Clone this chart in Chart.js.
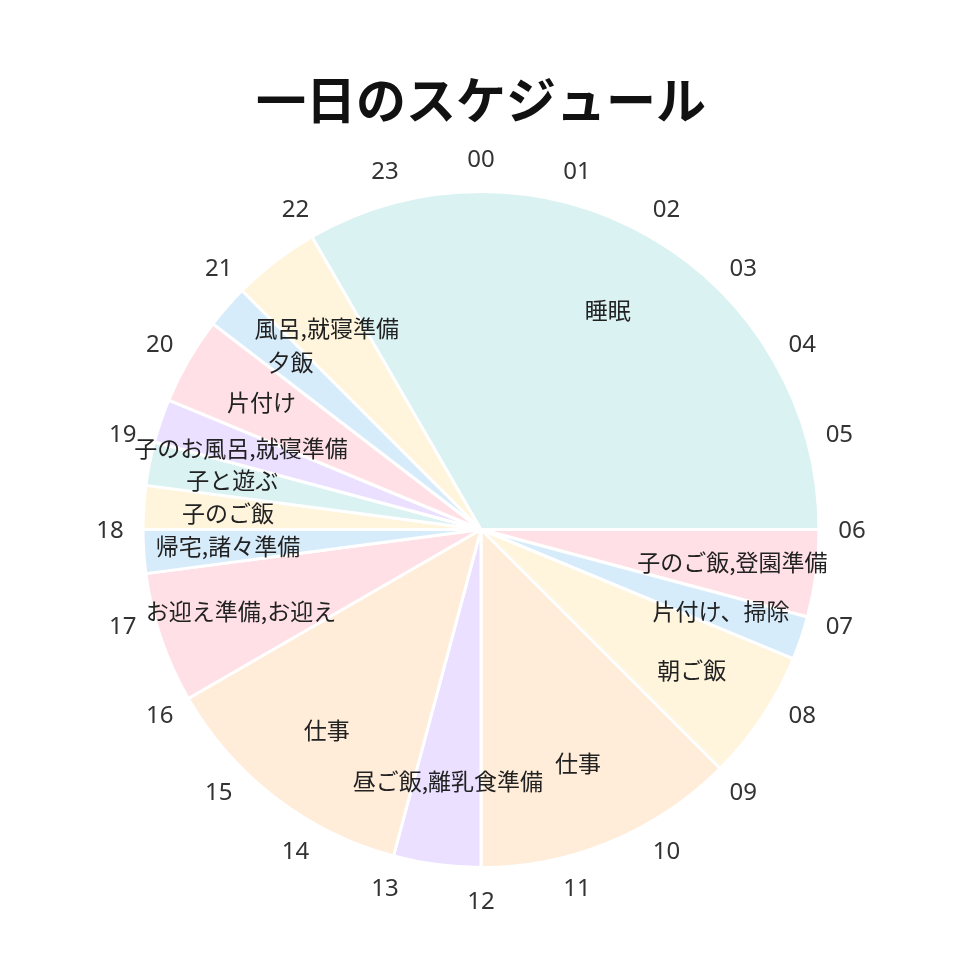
<!DOCTYPE html>
<html lang="ja">
<head>
<meta charset="UTF-8">
<script src="https://cdn.jsdelivr.net/npm/chart.js@4"></script>
<style>
  html, body { margin: 0; padding: 0; background: #fff; }
  #wrap { width: 960px; height: 960px; }
</style>
</head>
<body>
<div id="wrap"><canvas id="graficoDia"></canvas></div>
<script>
// --- 予定 (06:00 から時計回り) ---
const actividades = ['子のご飯,登園準備', '片付け、掃除', '朝ご飯', '仕事', '昼ご飯,離乳食準備', '仕事',
  'お迎え準備,お迎え', '帰宅,諸々準備', '子のご飯', '子と遊ぶ', '子のお風呂,就寝準備', '片付け', '夕飯',
  '風呂,就寝準備', '睡眠'];
const horas = [1, 0.5, 1.5, 3, 1, 3, 1.5, 0.5, 0.5, 0.5, 0.5, 1, 0.5, 1, 8];
const horaLabels = ['00', '01', '02', '03', '04', '05', '06', '07', '08', '09', '10', '11',
  '12', '13', '14', '15', '16', '17', '18', '19', '20', '21', '22', '23'];

const rosa = '#ffe0e6', azul = '#d7ecfb', amarillo = '#fff5dd', naranja = '#ffecd9',
  morado = '#ebe0ff', verde = '#dbf2f2';
const colores = [rosa, azul, amarillo, naranja, morado, naranja, rosa, azul, amarillo, verde,
  morado, rosa, azul, amarillo, verde];

const FUENTE = '"Noto Sans CJK JP", "Noto Sans", sans-serif';

// nombres dentro de cada porción
const etiquetasPlugin = {
  id: 'etiquetas',
  afterDatasetsDraw(chart) {
    const ctx = chart.ctx;
    const arcs = chart.getDatasetMeta(0).data;
    ctx.save();
    ctx.font = '23px ' + FUENTE;
    ctx.fillStyle = '#222';
    ctx.textAlign = 'center';
    ctx.textBaseline = 'middle';
    arcs.forEach((arc, i) => {
      const p = arc.getProps(['x', 'y', 'startAngle', 'endAngle', 'outerRadius'], true);
      const mid = (p.startAngle + p.endAngle) / 2;
      const r = p.outerRadius * 0.75;
      ctx.fillText(actividades[i], p.x + Math.cos(mid) * r, p.y + Math.sin(mid) * r);
    });
    ctx.restore();
  }
};

// horas alrededor del círculo
const horasPlugin = {
  id: 'horas',
  afterDraw(chart) {
    const ctx = chart.ctx;
    const arc = chart.getDatasetMeta(0).data[0];
    const p = arc.getProps(['x', 'y', 'outerRadius'], true);
    ctx.save();
    ctx.font = '24px "Noto Sans", sans-serif';
    ctx.fillStyle = '#333';
    ctx.textAlign = 'center';
    ctx.textBaseline = 'middle';
    horaLabels.forEach((h, i) => {
      const ang = (i / 24) * Math.PI * 2 - Math.PI / 2;
      const r = p.outerRadius + 33;
      ctx.fillText(h, p.x + Math.cos(ang) * r, p.y + Math.sin(ang) * r + 1.5);
    });
    ctx.restore();
  }
};

new Chart(document.getElementById('graficoDia'), {
  type: 'pie',
  data: {
    labels: actividades,
    datasets: [{
      data: horas,
      backgroundColor: colores,
      borderColor: '#fff',
      borderWidth: 3
    }]
  },
  options: {
    responsive: true,
    maintainAspectRatio: false,
    animation: false,
    rotation: 90,
    layout: { padding: { top: 0, bottom: 91, left: 2, right: 0 } },
    plugins: {
      legend: { display: false },
      tooltip: { enabled: false },
      title: {
        display: true,
        text: '一日のスケジュール',
        color: '#111',
        font: { size: 50, weight: 'bold', family: FUENTE },
        padding: { top: 70, bottom: 60 }
      }
    }
  },
  plugins: [etiquetasPlugin, horasPlugin]
});
</script>
</body>
</html>
